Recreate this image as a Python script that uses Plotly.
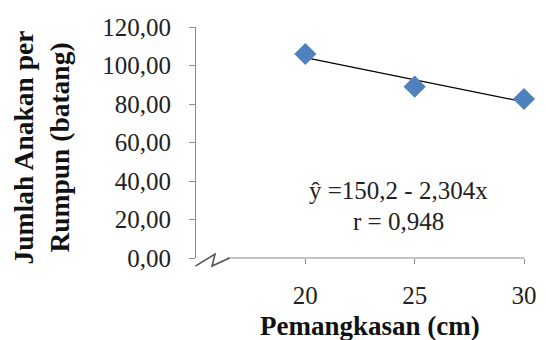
import plotly.graph_objects as go

# Data
x_vals = [20, 25, 30]
y_vals = [106.0, 89.0, 82.6]
trend_x = [20, 30]
trend_y = [104.1, 81.1]
y_tickvals = [0, 20, 40, 60, 80, 100, 120]
y_ticktext = ["0,00", "20,00", "40,00", "60,00", "80,00", "100,00", "120,00"]
x_tickvals = [20, 25, 30]
x_ticktext = ["20", "25", "30"]
equation = "ŷ =150,2 - 2,304x"
r_text = "r = 0,948"

SERIF = "Liberation Serif"
AX = "#8a8a8a"

fig = go.Figure()
fig.add_trace(go.Scatter(x=trend_x, y=trend_y, mode="lines",
                         line=dict(color="black", width=1.3), hoverinfo="skip",
                         cliponaxis=False, showlegend=False))
fig.add_trace(go.Scatter(x=x_vals, y=y_vals, mode="markers",
                         marker=dict(symbol="diamond", size=17, color="#4F81BD",
                                     line=dict(width=0)),
                         cliponaxis=False, showlegend=False))

fig.update_layout(
    width=530, height=332,
    margin=dict(l=188, r=14, t=19, b=82, autoexpand=False),
    paper_bgcolor="white", plot_bgcolor="white",
    font=dict(family=SERIF, color="#222222", size=22),
    xaxis=dict(range=[15, 30], tickvals=x_tickvals, ticktext=x_ticktext,
               showgrid=False, zeroline=False, showline=False, automargin=False,
               ticks="outside", ticklen=5, tickcolor=AX, tickwidth=1,
               ticklabelstandoff=10, tickfont=dict(size=25, family=SERIF)),
    yaxis=dict(range=[0, 120], tickvals=y_tickvals, ticktext=y_ticktext,
               showgrid=False, zeroline=False, showline=True, linecolor=AX,
               automargin=False,
               linewidth=1, ticks="outside", ticklen=6, tickcolor=AX,
               ticklabelstandoff=13, tickfont=dict(size=25, family=SERIF)),
    shapes=[
        # x axis line after the break
        dict(type="line", xref="paper", yref="paper", x0=0.095, x1=1.0,
             y0=0, y1=0, line=dict(color=AX, width=1)),
        # axis break zigzag
        dict(type="path", xref="paper", yref="paper",
             path="M -0.002,-0.035 L 0.058,0.017 L 0.049,-0.035 L 0.102,0.0",
             line=dict(color="#555555", width=1.6)),
    ],
    annotations=[
        dict(text="<b>Jumlah Anakan per<br>Rumpun (batang)</b>", xref="paper",
             yref="paper", x=-0.470, y=0.478, textangle=-90, showarrow=False,
             font=dict(size=27.5, family=SERIF, color="#111111"),
             xanchor="center", yanchor="middle"),
        dict(text="<b>Pemangkasan (cm)</b>", xref="paper", yref="paper",
             x=0.530, y=-0.294, showarrow=False, xanchor="center",
             yanchor="middle", font=dict(size=27, family=SERIF, color="#111111")),
        dict(text=equation, xref="paper", yref="paper", x=0.616, y=0.294,
             showarrow=False, xanchor="center", yanchor="middle",
             font=dict(size=25, family=SERIF, color="#222222")),
        dict(text=r_text, xref="paper", yref="paper", x=0.616, y=0.156,
             showarrow=False, xanchor="center", yanchor="middle",
             font=dict(size=25, family=SERIF, color="#222222")),
    ],
)

fig.write_html("out.html")
